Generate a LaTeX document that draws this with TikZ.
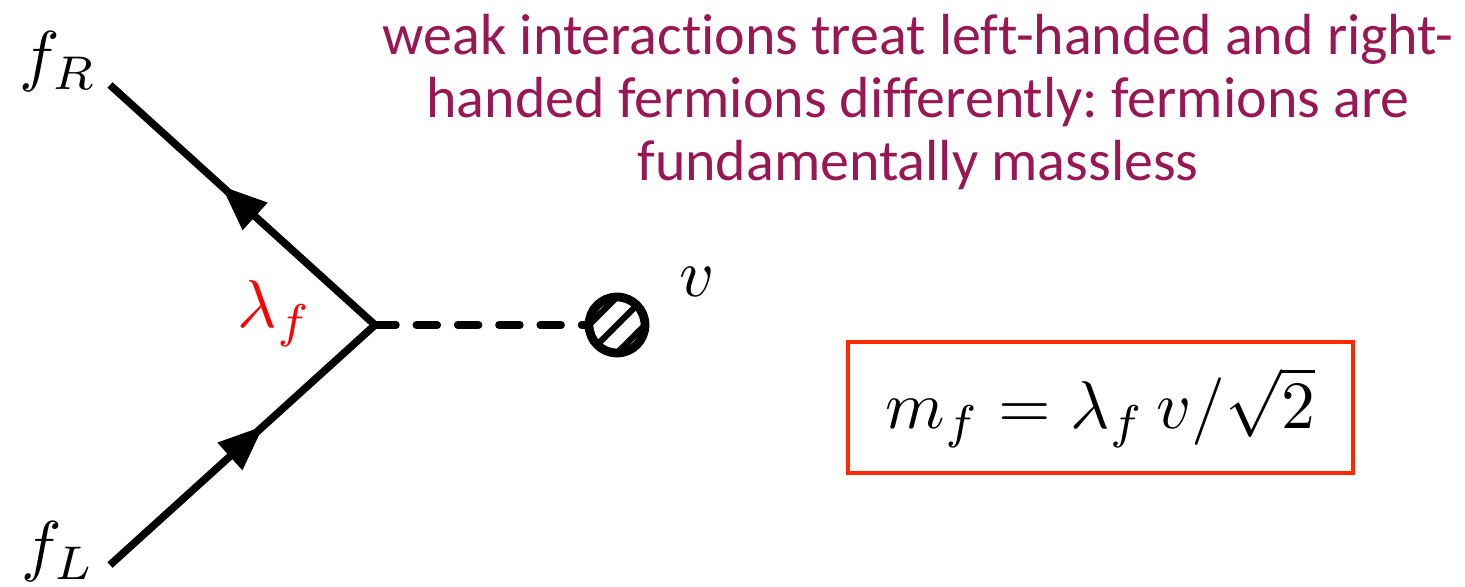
\documentclass[tikz,border=0pt]{standalone}
\usepackage{fontspec}
\usetikzlibrary{arrows.meta,decorations.markings}
\definecolor{titlepurple}{RGB}{153,24,84}
\definecolor{boxred}{RGB}{255,40,0}
\newfontfamily\titlefont[Ligatures=NoCommon]{Carlito}

\def\fline{4.3pt}
\def\sline{4.2pt}
\newcommand\diaglabel[1]{\scalebox{3.85}{#1}}

\tikzset{
  fermion/.style={line width=\fline, line join=miter, postaction={decorate},
    decoration={markings,
      mark=at position 0.29 with {\arrow{Triangle[length=26pt,width=20pt]}},
      mark=at position 0.79 with {\arrow{Triangle[length=26pt,width=20pt]}}}},
  scalar/.style={line width=\sline, line cap=round, dash pattern=on 12pt off 11.5pt},
  blob/.style={circle, draw, line width=5pt, minimum size=1.12cm, inner sep=0pt,
    path picture={
      \foreach \d in {-1,0,1}
      {
      \draw[line width=3.5pt] ([shift={(-1cm+\d*0.28cm,-1cm-\d*0.28cm)}]path picture bounding box.center) -- ++(2cm,2cm);
      }
    }},
  lab/.style={inner sep=0pt},
}

\begin{document}
\frenchspacing
\begin{tikzpicture}[x=0.02cm,y=0.02cm]

\useasboundingbox (0,0) rectangle (1465,587);

\coordinate (V) at (375,262);
\coordinate (FR) at (110,502);
\coordinate (FL) at (110,22);

% vertex and lines
\draw [fermion] (FL) -- (V) -- (FR);

\node[blob] (B) at (617,262) {};
\draw [scalar] (V) -- (B);

\node[lab] (fR) at (58,525) {\diaglabel{$f_R$}};
\node[lab] (fL) at (58,35) {\diaglabel{$f_L$}};
\node[lab, text=red] (lam) at (275,273) {\diaglabel{$\lambda_f$}};
\node[lab] (vev) at (697,305) {\diaglabel{$v$}};

% mass relation
\node[lab, draw=boxred, line width=2.3pt, minimum width=10.1cm, minimum height=2.62cm] (mass) at (1100.5,179.5) {\diaglabel{$m_f = \lambda_f\, v/\sqrt{2}$}};

\node[font=\titlefont\fontsize{33}{35.7}\selectfont, text=titlepurple, align=center, inner sep=0pt] (title) at (918,485)
  {weak interactions treat left-handed and right-\\handed fermions differently: fermions are\\fundamentally massless};

\end{tikzpicture}
\end{document}
